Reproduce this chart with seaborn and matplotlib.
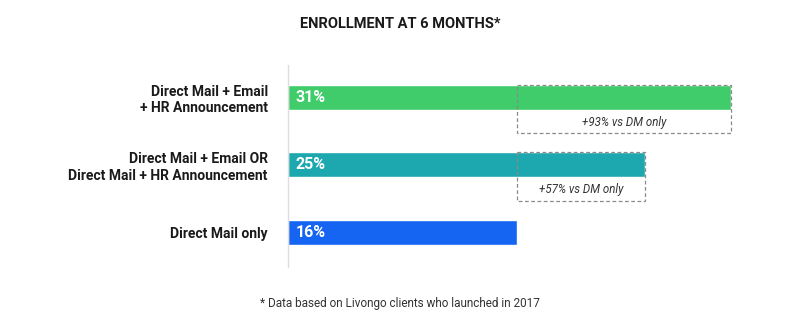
import matplotlib
matplotlib.use("Agg")
import matplotlib.pyplot as plt
import seaborn as sns
import pandas as pd
from matplotlib.patches import Rectangle

categories = ["Direct Mail + Email\n+ HR Announcement",
              "Direct Mail + Email OR\nDirect Mail + HR Announcement",
              "Direct Mail only"]
values = [31, 25, 16]
value_labels = ["31%", "25%", "16%"]
lift_labels = ["+93% vs DM only", "+57% vs DM only", None]
baseline = 16
colors = ["#40CC6A", "#1DA8B0", "#1565F2"]

sns.set_theme(style="white")
plt.rcParams["font.family"] = ["Roboto", "DejaVu Sans"]

df = pd.DataFrame({"cat": categories, "val": values})

fig = plt.figure(figsize=(8, 3.31), dpi=100)
ax = fig.add_axes([0.36, 1 - 267 / 331, 500 / 800, 202 / 331])

sns.barplot(data=df, y="cat", x="val", hue="cat", palette=colors,
            orient="h", width=0.37, dodge=False, legend=False, ax=ax,
            saturation=1)

ax.set_xlim(0, 35)
ax.set_ylim(2.51, -0.48)

for i, (v, lab, lift) in enumerate(zip(values, value_labels, lift_labels)):
    ax.text(0.55, i, lab, color="white", fontweight="bold", fontsize=11.5,
            va="center", ha="left")
    if lift:
        rect = Rectangle((baseline, i - 0.185), v - baseline, 0.185 + 0.526,
                         fill=False, edgecolor="#8a8a8a", linestyle=(0, (3, 2)),
                         linewidth=0.9, zorder=5)
        ax.add_patch(rect)
        ax.text((baseline + v) / 2, i + 0.365, lift, style="italic",
                fontsize=8.3, color="#333333", ha="center", va="center")

for s in ["top", "right", "bottom"]:
    ax.spines[s].set_visible(False)
ax.spines["left"].set_color("#dddddd")
ax.spines["left"].set_linewidth(1)
ax.set_xticks([])
ax.set_xlabel("")
ax.set_ylabel("")
ax.tick_params(axis="y", length=0, pad=14.5)
for t in ax.get_yticklabels():
    t.set_fontweight("bold")
    t.set_fontsize(10)
    t.set_color("#1a1a1a")
    t.set_multialignment("right")
    t.set_linespacing(1.2)

fig.text(0.5, 1 - 24 / 331, "ENROLLMENT AT 6 MONTHS*", ha="center", va="center",
         fontweight="bold", fontsize=10.5, color="#1a1a1a")
fig.text(0.5, 1 - 304 / 331, "* Data based on Livongo clients who launched in 2017",
         ha="center", va="center", fontsize=8.5, color="#333333")

fig.savefig("out.png", dpi=100, facecolor="white")
